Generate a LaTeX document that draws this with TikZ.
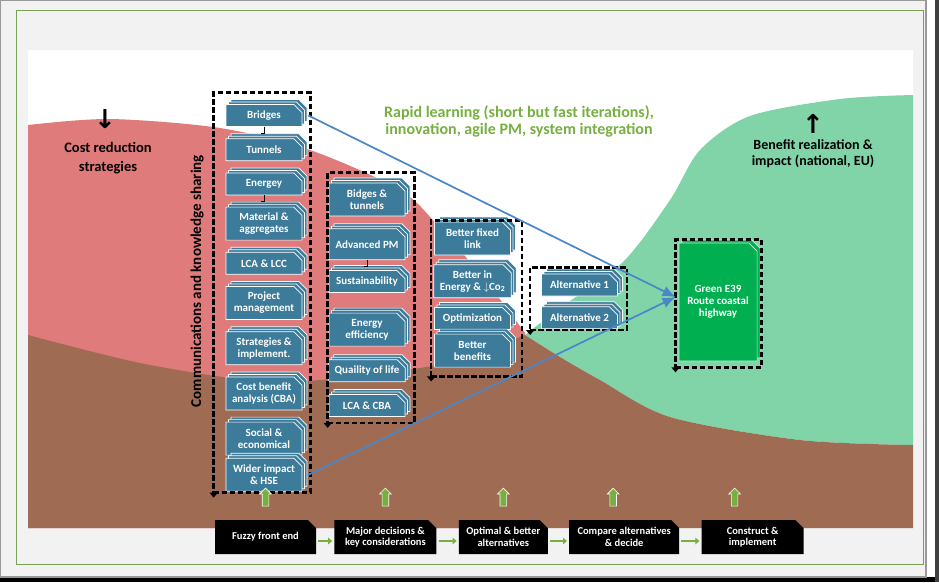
\documentclass[tikz,border=0pt]{standalone}
\usepackage{fontspec}
\setmainfont{Carlito}
\newfontfamily\arrowfont{DejaVu Sans}
\usetikzlibrary{positioning,shapes.misc,shapes.arrows,shadows,arrows.meta}

\definecolor{hillred}{HTML}{E07B7B}
\definecolor{hillgreen}{HTML}{80D4A8}
\definecolor{soil}{HTML}{9F6B53}
\definecolor{stepblue}{HTML}{3D7B9B}
\definecolor{leafgreen}{HTML}{77B041}
\definecolor{linkblue}{HTML}{4A86C8}
\definecolor{e39green}{HTML}{00B050}
\definecolor{pagegrey}{HTML}{F2F2F2}

\begin{document}
\begin{tikzpicture}[x=1pt,y=-1pt,
    topicnode/.style={
        chamfered rectangle,
        chamfered rectangle corners=north east,
        chamfered rectangle xsep=5pt,
        fill=stepblue,
        draw=white,
        line width=0.7pt,
        text=white,
        font=\bfseries\fontsize{11}{12}\selectfont,
        align=center,
        minimum width=76pt,
        minimum height=22pt,
        inner sep=1pt,
        copy shadow={shadow xshift=5pt, shadow yshift=5pt},
        copy shadow={shadow xshift=2.5pt, shadow yshift=2.5pt}
    },
    twoline/.style={minimum height=33pt},
    e39node/.style={
        chamfered rectangle,
        chamfered rectangle corners=north east,
        chamfered rectangle xsep=5pt,
        fill=e39green,
        draw=white!80!e39green,
        line width=0.7pt,
        text=white,
        font=\bfseries\fontsize{11}{12}\selectfont,
        align=center,
        minimum width=74pt,
        minimum height=118pt,
        copy shadow={shadow xshift=3pt, shadow yshift=3pt}
    },
    phasenode/.style={
        chamfered rectangle,
        chamfered rectangle corners=north east,
        chamfered rectangle xsep=5pt,
        fill=black,
        text=white,
        font=\bfseries\fontsize{10.5}{11.5}\selectfont,
        align=center,
        minimum height=34pt,
        inner xsep=0pt,
        inner ysep=1pt
    },
    framepath/.style={
        draw=black,
        line width=2.4pt,
        dash pattern=on 5.5pt off 2.5pt,
        -{Triangle[length=5pt,width=8pt]}
    },
    tick/.style={draw=black, line width=0.8pt},
    linkline/.style={draw=linkblue, line width=1.7pt, -{Latex[length=13pt,width=11pt]}},
    flowarrow/.style={draw=leafgreen, line width=2.4pt, -{Triangle[length=4pt,width=6.5pt]}},
    uparrow/.style={
        single arrow,
        rotate=90,
        fill=leafgreen,
        draw=white,
        line width=0.6pt,
        minimum width=11pt,
        minimum height=18pt,
        single arrow head extend=2.5pt,
        inner sep=3pt
    },
    bigtext/.style={font=\bfseries\fontsize{14.5}{19}\selectfont, align=center, inner sep=0pt},
    leaftext/.style={font=\bfseries\fontsize{16}{17}\selectfont, text=leafgreen, align=center, inner sep=0pt},
    glyph/.style={font=\arrowfont\bfseries\fontsize{26}{26}\selectfont, inner sep=0pt}
]
    \useasboundingbox (0,0) rectangle (939,582);

    % page, shadow and panel
    \fill[white] (0,0) rectangle (939,582);
    \fill[black] (0,577) rectangle (939,582);
    \fill[black!75] (935,0) rectangle (939,582);
    \filldraw[fill=pagegrey, draw=gray!80, line width=1.5pt] (0,0) rectangle (926,577);
    \draw[leafgreen!70!gray, line width=1pt] (16,10) rectangle (923,564);
    \fill[white] (28,50) rectangle (913,528);

    % hills
    \fill[hillred] plot[smooth] coordinates {(28,125) (110,119) (220,128) (310,150) (400,190) (440,228) (485,280) (525,333)}
        -- (525,528) -- (28,528) -- cycle;
    \fill[hillgreen] plot[smooth] coordinates {(525,335) (560,308) (623,262) (670,200) (700,150) (750,116) (840,99) (913,95)}
        -- plot[smooth] coordinates {(913,445) (800,440) (670,417) (600,380) (560,357) (525,335)} -- cycle;
    \fill[soil] plot[smooth] coordinates {(28,335) (150,365) (280,382) (420,368) (480,352) (525,335)}
        -- plot[smooth] coordinates {(525,335) (560,357) (600,380) (670,417) (800,440) (913,445)}
        -- (913,528) -- (28,528) -- cycle;

    % labels
    \node[leaftext] (rapid) at (519,121) {Rapid learning (short but fast iterations),\\innovation, agile PM, system integration};
    \node[glyph] (costarrow) at (105,119) {↓};
    \node[bigtext] (costred) at (108,158) {Cost reduction\\strategies};
    \node[glyph] (benefitarrow) at (813,124) {↑};
    \node[bigtext, font=\bfseries\fontsize{14}{16}\selectfont] (benefit) at (813,154) {Benefit realization \&\\impact (national, EU)};
    \node[bigtext, font=\bfseries\fontsize{15}{16}\selectfont, rotate=90] (comm) at (197,281) {Communications and knowledge sharing};

    % first column
    \node[topicnode] (bridges) at (264,115.5) {Bridges};
    \node[topicnode, below=11.5pt of bridges] (tunnels) {Tunnels};
    \node[topicnode, below=11.5pt of tunnels] (energey) {Energey};
    \node[topicnode, twoline, below=11.5pt of energey] (material) {Material \&\\aggregates};
    \node[topicnode, below=11.5pt of material] (lcalcc) {LCA \& LCC};
    \node[topicnode, twoline, below=11.5pt of lcalcc] (projman) {Project\\management};
    \node[topicnode, twoline, below=11.5pt of projman] (strategies) {Strategies \&\\implement.};
    \node[topicnode, twoline, below=11.5pt of strategies] (cba) {Cost benefit\\analysis (CBA)};
    \node[topicnode, twoline, below=11.5pt of cba] (social) {Social \&\\economical};
    \node[topicnode, twoline, below=2.5pt of social] (wider) {Wider impact\\\& HSE};

    % second column
    \node[topicnode, twoline] (bidges) at (367,199.5) {Bidges \&\\tunnels};
    \node[topicnode, minimum height=31pt, below=12pt of bidges] (advpm) {Advanced PM};
    \node[topicnode, below=10pt of advpm] (sustain) {Sustainability};
    \node[topicnode, twoline, below=20pt of sustain] (energyeff) {Energy\\efficiency};
    \node[topicnode, below=13pt of energyeff] (quality) {Quaility of life};
    \node[topicnode, below=12pt of quality] (lcacba) {LCA \& CBA};

    % third column
    \node[topicnode, twoline] (fixedlink) at (472.5,238.5) {Better fixed\\link};
    \node[topicnode, twoline, below=9pt of fixedlink] (betterenergy) {Better in\\Energy \& $\downarrow$Co\textsubscript{2}};
    \node[topicnode, below=9pt of betterenergy] (optim) {Optimization};
    \node[topicnode, twoline, below=4pt of optim] (benefits) {Better\\benefits};

    % alternatives
    \node[topicnode] (alt1) at (579.5,285) {Alternative 1};
    \node[topicnode, below=10pt of alt1] (alt2) {Alternative 2};

    % result
    \node[e39node] (e39) at (718,302) {Green E39\\Route coastal\\highway};

    % small elbows
    \draw[tick] (bridges.south) |- ([shift={(-3pt,5pt)}]tunnels.north);
    \draw[tick] (energey.south) |- ([shift={(-3pt,5pt)}]material.north);
    \draw[tick] (advpm.south) |- ([shift={(-3pt,4pt)}]sustain.north);

    % dashed frames
    \coordinate (f1nw) at ([shift={(-12pt,11.5pt)}]bridges.north west);
    \coordinate (f1se) at ([shift={(8pt,-1pt)}]wider.south east);
    \coordinate (f2nw) at ([shift={(-1pt,10pt)}]bidges.north west);
    \coordinate (f2se) at ([shift={(9pt,-6pt)}]lcacba.south east);
    \coordinate (f3nw) at ([shift={(-3pt,1pt)}]fixedlink.north west);
    \coordinate (f3se) at ([shift={(11pt,-9pt)}]benefits.south east);
    \coordinate (f4nw) at ([shift={(-11pt,6pt)}]alt1.north west);
    \coordinate (f4se) at ([shift={(9pt,-1pt)}]alt2.south east);
    \coordinate (f5nw) at ([shift={(-3pt,3pt)}]e39.north west);
    \coordinate (f5se) at ([shift={(4pt,-6pt)}]e39.south east);
    \foreach \f in {f1,f2,f3,f4,f5}
        \draw[framepath] (\f se -| \f nw) -- (\f se) -- (\f nw -| \f se) -- (\f nw) -- ([yshift=-5pt]\f se -| \f nw);

    % links to the result
    \draw[linkline] ([xshift=6pt]bridges.east) -- ([shift={(-3pt,5pt)}]e39.west);
    \draw[linkline] ([xshift=6pt]wider.east) -- ([shift={(-3pt,5pt)}]e39.west);

    % phases
    \node[phasenode, minimum width=101pt] (fuzzy) at (265.5,537) {Fuzzy front end};
    \node[phasenode, minimum width=102pt, right=18pt of fuzzy] (major) {Major decisions \&\\key considerations};
    \node[phasenode, minimum width=89pt, right=22pt of major] (optimal) {Optimal \& better\\alternatives};
    \node[phasenode, minimum width=110pt, right=21pt of optimal] (compare) {Compare alternatives\\\& decide};
    \node[phasenode, minimum width=102pt, right=22pt of compare] (construct) {Construct \&\\implement};

    \foreach \a/\b in {fuzzy/major, major/optimal, optimal/compare, compare/construct}
        \draw[flowarrow] ([shift={(2pt,-4pt)}]\a.east) -- ([shift={(-2pt,-4pt)}]\b.west);

    \node[uparrow] (up1) at ([yshift=21pt]fuzzy.north) {};
    \node[uparrow] (up2) at ([yshift=21pt]major.north) {};
    \node[uparrow] (up3) at ([yshift=21pt]optimal.north) {};
    \node[uparrow] (up4) at ([shift={(-11pt,21pt)}]compare.north) {};
    \node[uparrow] (up5) at ([shift={(-18pt,21pt)}]construct.north) {};
\end{tikzpicture}
\end{document}
